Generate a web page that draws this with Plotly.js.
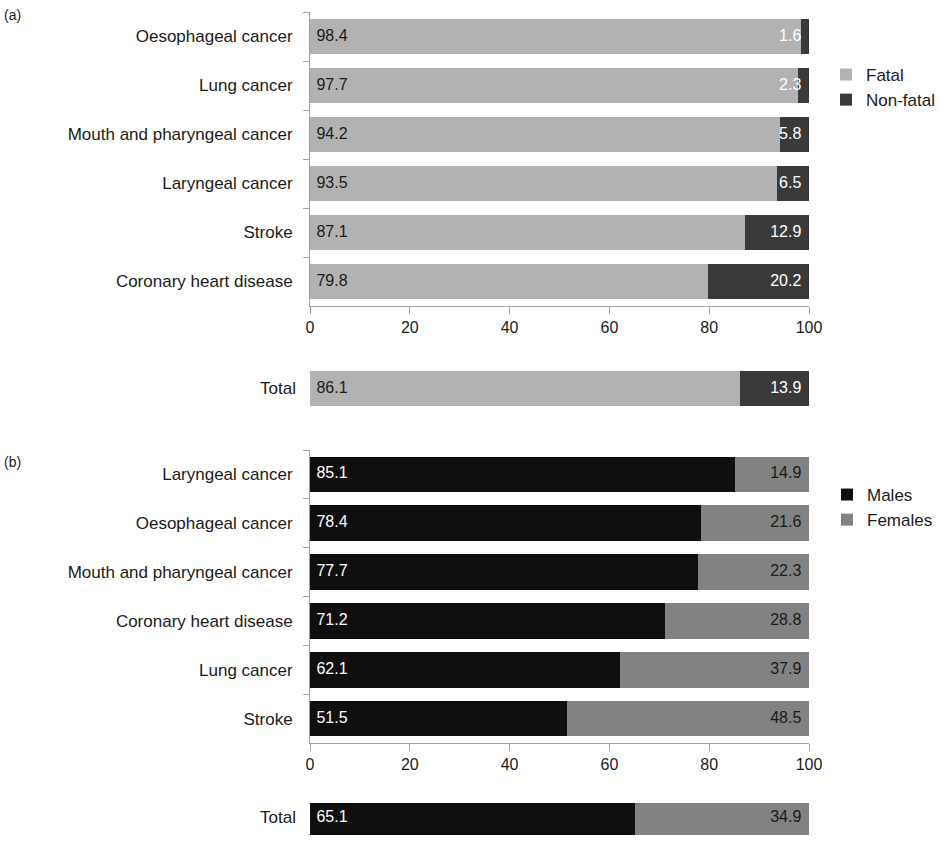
<!DOCTYPE html>
<html>
<head>
<meta charset="utf-8">
<script src="https://cdn.plot.ly/plotly-3.0.1.min.js"></script>
<style>html,body{margin:0;padding:0;background:#fff;}#chart{width:940px;height:842px;}</style>
</head>
<body>
<div id="chart"></div>
<script>
// Panel (a): fatal vs non-fatal
const catsA = ["Oesophageal cancer", "Lung cancer", "Mouth and pharyngeal cancer", "Laryngeal cancer", "Stroke", "Coronary heart disease"];
const fatalA = [98.4, 97.7, 94.2, 93.5, 87.1, 79.8];
const nonFatalA = [1.6, 2.3, 5.8, 6.5, 12.9, 20.2];
const totalLabel = ["Total"];
const fatalTotal = [86.1];
const nonFatalTotal = [13.9];

// Panel (b): males vs females
const catsB = ["Laryngeal cancer", "Oesophageal cancer", "Mouth and pharyngeal cancer", "Coronary heart disease", "Lung cancer", "Stroke"];
const malesB = [85.1, 78.4, 77.7, 71.2, 62.1, 51.5];
const femalesB = [14.9, 21.6, 22.3, 28.8, 37.9, 48.5];
const malesTotal = [65.1];
const femalesTotal = [34.9];

const xTicks = [0, 20, 40, 60, 80, 100];

const cFatal = "#b2b2b2", cNonFatal = "#3a3a3a", cMales = "#0f0f0f", cFemales = "#828282";
const FONT = "Liberation Sans, Arial, sans-serif";
const H = 842;
const py = p => 1 - p / H;

function barTrace(x, y, name, color, xa, ya, legend, showlegend) {
  return {
    type: "bar", orientation: "h", x: x, y: y, name: name,
    marker: {color: color, line: {width: 0}},
    xaxis: xa, yaxis: ya,
    legend: legend, showlegend: showlegend, hoverinfo: "skip"
  };
}
// value labels: left ones anchored at the bar start, right ones at the stacked end
function leftLabels(vals, y, xa, ya, color) {
  return {
    type: "scatter", mode: "text", x: vals.map(() => 0), y: y, xaxis: xa, yaxis: ya,
    text: vals.map(v => "\u2009\u2009" + v.toFixed(1)), textposition: "middle right",
    textfont: {family: FONT, size: 16, color: color},
    showlegend: false, hoverinfo: "skip", cliponaxis: false
  };
}
function rightLabels(first, vals, y, xa, ya, color) {
  return {
    type: "scatter", mode: "text", x: vals.map((v, i) => v + first[i]), y: y, xaxis: xa, yaxis: ya,
    text: vals.map(v => v.toFixed(1) + "\u00a0\u2009"), textposition: "middle left",
    textfont: {family: FONT, size: 16, color: color},
    showlegend: false, hoverinfo: "skip", cliponaxis: false
  };
}

const data = [
  barTrace(fatalA, catsA, "Fatal", cFatal, "x", "y", "legend", true),
  barTrace(nonFatalA, catsA, "Non-fatal", cNonFatal, "x", "y", "legend", true),
  barTrace(fatalTotal, totalLabel, "Fatal", cFatal, "x2", "y2", "legend", false),
  barTrace(nonFatalTotal, totalLabel, "Non-fatal", cNonFatal, "x2", "y2", "legend", false),
  barTrace(malesB, catsB, "Males", cMales, "x3", "y3", "legend2", true),
  barTrace(femalesB, catsB, "Females", cFemales, "x3", "y3", "legend2", true),
  barTrace(malesTotal, totalLabel, "Males", cMales, "x4", "y4", "legend2", false),
  barTrace(femalesTotal, totalLabel, "Females", cFemales, "x4", "y4", "legend2", false),
  leftLabels(fatalA, catsA, "x", "y", "#1a1a1a"),
  rightLabels(fatalA, nonFatalA, catsA, "x", "y", "#ffffff"),
  leftLabels(fatalTotal, totalLabel, "x2", "y2", "#1a1a1a"),
  rightLabels(fatalTotal, nonFatalTotal, totalLabel, "x2", "y2", "#ffffff"),
  leftLabels(malesB, catsB, "x3", "y3", "#ffffff"),
  rightLabels(malesB, femalesB, catsB, "x3", "y3", "#1a1a1a"),
  leftLabels(malesTotal, totalLabel, "x4", "y4", "#ffffff"),
  rightLabels(malesTotal, femalesTotal, totalLabel, "x4", "y4", "#1a1a1a")
];

const tickFont = {family: FONT, size: 16, color: "#1a1a1a"};
const catFont = {family: FONT, size: 17, color: "#1a1a1a"};
function xAx(anchor, show) {
  return {
    anchor: anchor, domain: [0, 1], range: [0, 100], fixedrange: true,
    tickvals: xTicks, ticktext: xTicks.map(String),
    showgrid: false, zeroline: false,
    showline: show, linecolor: "#a0a0a0", linewidth: 1,
    ticks: show ? "outside" : "", ticklen: 7, tickcolor: "#a0a0a0",
    showticklabels: show, tickfont: tickFont
  };
}
function yAx(anchor, domain, cats, range, show) {
  return {
    anchor: anchor, domain: domain, type: "category", categoryarray: cats,
    range: range, fixedrange: true,
    showgrid: false, zeroline: false,
    showline: show, linecolor: "#a0a0a0", linewidth: 1,
    ticks: show ? "outside" : "", tickson: "boundaries", ticklen: 6, tickcolor: "#a0a0a0",
    tickfont: catFont, ticklabelstandoff: 13
  };
}

const legendFont = {family: FONT, size: 17, color: "#1a1a1a"};
const layout = {
  width: 940, height: 842,
  margin: {l: 310, r: 130, t: 0, b: 0},
  paper_bgcolor: "#ffffff", plot_bgcolor: "#ffffff",
  barmode: "stack", bargap: 0.27,
  font: {family: FONT, size: 16, color: "#1a1a1a"},
  xaxis: xAx("y", true),
  yaxis: yAx("x", [py(306), py(12)], catsA, [5.5, -0.5], true),
  xaxis2: xAx("y2", false),
  yaxis2: yAx("x2", [py(413), py(364)], totalLabel, [0.5, -0.5], false),
  xaxis3: xAx("y3", true),
  yaxis3: yAx("x3", [py(743), py(450)], catsB, [5.5, -0.5], true),
  xaxis4: xAx("y4", false),
  yaxis4: yAx("x4", [0, py(803)], totalLabel, [0.5, 0.5 - 39 / 49], false),
  legend: {x: 1.034, y: py(57), xanchor: "left", yanchor: "top", bgcolor: "rgba(0,0,0,0)",
    font: legendFont, itemwidth: 30, tracegroupgap: 0, traceorder: "normal"},
  legend2: {x: 1.034, y: py(477), xanchor: "left", yanchor: "top", bgcolor: "rgba(0,0,0,0)",
    font: legendFont, itemwidth: 30, tracegroupgap: 0, traceorder: "normal"},
  annotations: [
    {text: "(a)", xref: "paper", yref: "paper", x: -0.596, y: py(15), xanchor: "center", yanchor: "middle", showarrow: false, font: {family: FONT, size: 14, color: "#1a1a1a"}},
    {text: "(b)", xref: "paper", yref: "paper", x: -0.596, y: py(462), xanchor: "center", yanchor: "middle", showarrow: false, font: {family: FONT, size: 14, color: "#1a1a1a"}}
  ],
  showlegend: true
};

Plotly.newPlot("chart", data, layout, {displayModeBar: false, staticPlot: true});
</script>
</body>
</html>
